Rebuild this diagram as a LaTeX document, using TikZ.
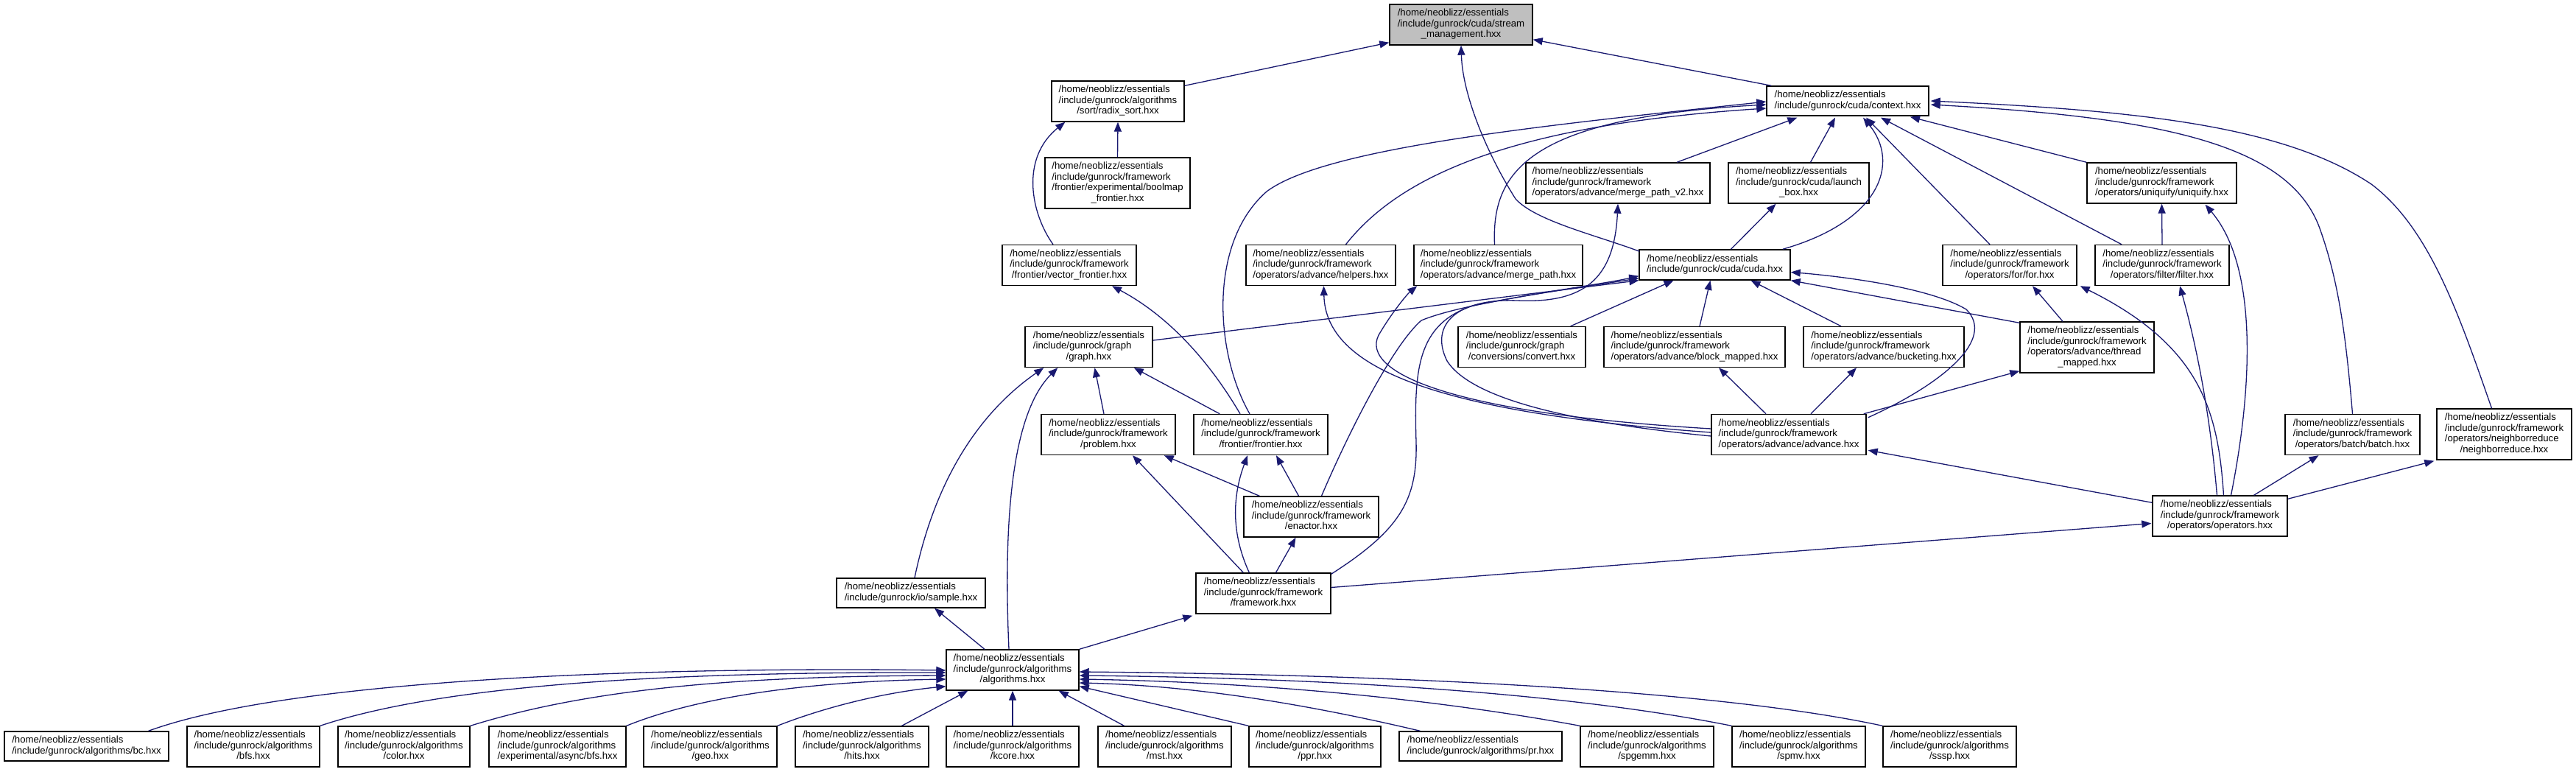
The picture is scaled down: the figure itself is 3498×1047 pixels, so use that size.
\documentclass[tikz,border=0pt]{standalone}
\usepackage{fontspec}
\setmainfont{Liberation Sans}
\usetikzlibrary{arrows.meta,calc}
\definecolor{edgec}{HTML}{191970}
\definecolor{sgray}{HTML}{BFBFBF}
\newcommand{\lastln}[1]{\multicolumn{1}{@{}c@{}}{#1}}
\newcommand{\tb}[1]{\begin{tabular}{@{}l@{}}#1\end{tabular}}
\newcommand{\fsz}{\fontsize{13.2pt}{14.5pt}\selectfont}
\newcommand{\hne}{/home/neoblizz/essentials}
\newcommand{\igf}{/include/gunrock/framework}
\newcommand{\iga}{/include/gunrock/algorithms}
\tikzset{
  box/.style={draw=black, line width=1.4pt, fill=white, inner sep=0pt, font=\fsz},
  bx/.style 2 args={box, minimum width=#1pt, minimum height=#2pt},
  conn/.style={draw=edgec, line width=1.3pt, -{Triangle[length=13pt,width=10pt]}},
}
\begin{document}
\begin{tikzpicture}[x=1pt,y=-1pt]
\useasboundingbox (0,0) rectangle (3498,1047);
\fill[white] (0,0) rectangle (3498,1047);

% ---------- nodes ----------
\node[bx={194}{55},fill=sgray] (stream) at (1984,33.5) {\tb{\hne\\/include/gunrock/cuda/stream\\\lastln{\_management.hxx}}};
\node[bx={180}{55}] (radix) at (1518,137.5) {\tb{\hne\\\iga\\\lastln{/sort/radix\_sort.hxx}}};
\node[bx={220}{40}] (context) at (2509,137) {\tb{\hne\\/include/gunrock/cuda/context.hxx}};
\node[bx={197}{69}] (boolmap) at (1517.5,248.5) {\tb{\hne\\\igf\\/frontier/experimental/boolmap\\\lastln{\_frontier.hxx}}};
\node[bx={250}{55}] (mergev2) at (2197,248.5) {\tb{\hne\\\igf\\\lastln{/operators/advance/merge\_path\_v2.hxx}}};
\node[bx={191}{55}] (launch) at (2442.5,248.5) {\tb{\hne\\/include/gunrock/cuda/launch\\\lastln{\_box.hxx}}};
\node[bx={203}{55}] (uniquify) at (2935.5,248.5) {\tb{\hne\\\igf\\\lastln{/operators/uniquify/uniquify.hxx}}};
\node[bx={182}{55}] (vector) at (1452,360) {\tb{\hne\\\igf\\\lastln{/frontier/vector\_frontier.hxx}}};
\node[bx={203}{55}] (helpers) at (1793.5,360) {\tb{\hne\\\igf\\\lastln{/operators/advance/helpers.hxx}}};
\node[bx={229}{55}] (mergepath) at (2034.5,360) {\tb{\hne\\\igf\\\lastln{/operators/advance/merge\_path.hxx}}};
\node[bx={205}{41}] (cuda) at (2328.5,359.5) {\tb{\hne\\/include/gunrock/cuda/cuda.hxx}};
\node[bx={182}{55}] (forop) at (2729,360) {\tb{\hne\\\igf\\\lastln{/operators/for/for.hxx}}};
\node[bx={182}{55}] (filter) at (2936,360) {\tb{\hne\\\igf\\\lastln{/operators/filter/filter.hxx}}};
\node[bx={173}{55}] (graph) at (1478.5,471) {\tb{\hne\\/include/gunrock/graph\\\lastln{/graph.hxx}}};
\node[bx={173}{55}] (convert) at (2066.5,471) {\tb{\hne\\/include/gunrock/graph\\\lastln{/conversions/convert.hxx}}};
\node[bx={246}{55}] (block) at (2301,471) {\tb{\hne\\\igf\\\lastln{/operators/advance/block\_mapped.hxx}}};
\node[bx={218}{55}] (bucketing) at (2558,471) {\tb{\hne\\\igf\\\lastln{/operators/advance/bucketing.hxx}}};
\node[bx={182}{69}] (thread) at (2834,471.5) {\tb{\hne\\\igf\\/operators/advance/thread\\\lastln{\_mapped.hxx}}};
\node[bx={182}{55}] (problem) at (1505,590) {\tb{\hne\\\igf\\\lastln{/problem.hxx}}};
\node[bx={182}{55}] (frontier) at (1712,590) {\tb{\hne\\\igf\\\lastln{/frontier/frontier.hxx}}};
\node[bx={210}{55}] (advance) at (2429,590) {\tb{\hne\\\igf\\\lastln{/operators/advance/advance.hxx}}};
\node[bx={183}{55}] (batch) at (3194.5,590) {\tb{\hne\\\igf\\\lastln{/operators/batch/batch.hxx}}};
\node[bx={183}{69}] (nreduce) at (3400.5,589.5) {\tb{\hne\\\igf\\/operators/neighborreduce\\\lastln{/neighborreduce.hxx}}};
\node[bx={183}{55}] (enactor) at (1780.5,701.5) {\tb{\hne\\\igf\\\lastln{/enactor.hxx}}};
\node[bx={183}{55}] (operators) at (3014.5,700.5) {\tb{\hne\\\igf\\\lastln{/operators/operators.hxx}}};
\node[bx={202}{40}] (sample) at (1237,805) {\tb{\hne\\/include/gunrock/io/sample.hxx}};
\node[bx={183}{55}] (framework) at (1715.5,805.5) {\tb{\hne\\\igf\\\lastln{/framework.hxx}}};
\node[bx={180}{55}] (algorithms) at (1375,909.5) {\tb{\hne\\\iga\\\lastln{/algorithms.hxx}}};
% bottom row
\node[bx={223}{40}] (bc) at (117.5,1013) {\tb{\hne\\/include/gunrock/algorithms/bc.hxx}};
\node[bx={180}{55}] (bfs) at (344,1013.5) {\tb{\hne\\\iga\\\lastln{/bfs.hxx}}};
\node[bx={179}{55}] (color) at (548.5,1013.5) {\tb{\hne\\\iga\\\lastln{/color.hxx}}};
\node[bx={186}{55}] (async) at (757,1013.5) {\tb{\hne\\\iga\\\lastln{/experimental/async/bfs.hxx}}};
\node[bx={181}{55}] (geo) at (964.5,1013.5) {\tb{\hne\\\iga\\\lastln{/geo.hxx}}};
\node[bx={181}{55}] (hits) at (1170.5,1013.5) {\tb{\hne\\\iga\\\lastln{/hits.hxx}}};
\node[bx={180}{55}] (kcore) at (1375,1013.5) {\tb{\hne\\\iga\\\lastln{/kcore.hxx}}};
\node[bx={181}{55}] (mst) at (1581.5,1013.5) {\tb{\hne\\\iga\\\lastln{/mst.hxx}}};
\node[bx={179}{55}] (ppr) at (1785.5,1013.5) {\tb{\hne\\\iga\\\lastln{/ppr.hxx}}};
\node[bx={221}{40}] (pr) at (2010.5,1013) {\tb{\hne\\/include/gunrock/algorithms/pr.hxx}};
\node[bx={181}{55}] (spgemm) at (2236.5,1013.5) {\tb{\hne\\\iga\\\lastln{/spgemm.hxx}}};
\node[bx={181}{55}] (spmv) at (2442.5,1013.5) {\tb{\hne\\\iga\\\lastln{/spmv.hxx}}};
\node[bx={181}{55}] (sssp) at (2647.5,1013.5) {\tb{\hne\\\iga\\\lastln{/sssp.hxx}}};

% ---------- edges (child -> included parent) ----------
\draw[conn] ($(radix.north east)+(0,7)$) -- ($(stream.south west)+(0,-4)$);
\draw[conn] ($(context.north west)+(7,0)$) -- ($(stream.south east)+(0,-8)$);
\draw[conn] ($(cuda.north west)+(1,3)$) .. controls (2170,320) and (2085,300) .. (2058,270) .. controls (2020,210) and (1986,130) .. (stream.south);
\draw[conn] (boolmap.north) -- (radix.south);
\draw[conn] ($(vector.north)+(-22,0)$) .. controls (1400,290) and (1385,215) .. ($(radix.south west)+(19,0)$);

\draw[conn] ($(mergev2.north)+(80,0)$) -- ($(context.south west)+(42,2)$);
\draw[conn] ($(launch.north)+(16,0)$) -- ($(context.south)+(-17,2)$);
\draw[conn] (uniquify.north west) -- ($(context.south)+(85,1)$);
\draw[conn] ($(helpers.north)+(34,0)$) .. controls (1900,240) and (2050,170) .. ($(context.west)+(0,10)$);
\draw[conn] ($(mergepath.north)+(-5,0)$) .. controls (2025,230) and (2080,160) .. ($(context.west)+(0,5)$);
\draw[conn] ($(cuda.north east)+(-11,0)$) .. controls (2555,300) and (2580,220) .. ($(context.south)+(21,2)$);
\draw[conn] ($(forop.north)+(-27,0)$) -- ($(context.south)+(25,2)$);
\draw[conn] ($(filter.north)+(-55,0)$) -- ($(context.south)+(45,2)$);
\draw[conn] ($(frontier.north)+(-15,0)$) .. controls (1650,480) and (1640,330) .. (1720,260) .. controls (1800,200) and (2100,170) .. ($(context.west)+(0,1)$);
\draw[conn] (batch.north) .. controls (3185,450) and (3175,380) .. (3150,310) .. controls (3110,200) and (2950,160) .. ($(context.east)+(2,5)$);
\draw[conn] ($(nreduce.north)+(-17,0)$) .. controls (3340,430) and (3300,310) .. (3220,250) .. controls (3100,170) and (2900,150) .. ($(context.east)+(2,0)$);

\draw[conn] ($(cuda.north)+(22,0)$) -- ($(launch.south)+(-31,0)$);
\draw[conn] (filter.north) -- (uniquify.south);
\draw[conn] ($(operators.north)+(15,0)$) .. controls (3060,520) and (3065,360) .. ($(uniquify.south)+(59,1)$);
\draw[conn] ($(frontier.north)+(-28,0)$) .. controls (1630,470) and (1570,420) .. ($(vector.south)+(58,0)$);

\draw[conn] ($(advance.west)+(0,-3)$) .. controls (1950,560) and (1800,500) .. ($(helpers.south)+(4,0)$);
\draw[conn] ($(advance.west)+(0,-8)$) .. controls (1950,560) and (1840,500) .. (1875,450) .. controls (1890,425) and (1910,400) .. ($(mergepath.south west)+(5,0)$);
\draw[conn] ($(advance.west)+(0,2)$) .. controls (2150,575) and (2000,545) .. (1965,490) .. controls (1940,440) and (1980,405) .. (2060,408) .. controls (2150,412) and (2192,380) .. (mergev2.south);

\draw[conn] ($(graph.east)+(0,-9)$) -- (cuda.south west);
\draw[conn] ($(convert.north east)+(-21,0)$) -- ($(cuda.south)+(-56,0)$);
\draw[conn] ($(block.north)+(7,0)$) -- ($(cuda.south)+(-6,0)$);
\draw[conn] ($(bucketing.north)+(-58,0)$) -- ($(cuda.south)+(49,0)$);
\draw[conn] ($(thread.north west)+(0,2)$) -- (cuda.south east);
\draw[conn] ($(advance.north east)+(2,5)$) .. controls (2640,520) and (2710,460) .. (2670,420) .. controls (2620,390) and (2500,375) .. ($(cuda.east)+(0,10)$);
\draw[conn] ($(enactor.north)+(14,0)$) .. controls (1830,590) and (1890,470) .. (1930,435) .. controls (1990,410) and (2150,390) .. ($(cuda.south west)+(0,-3)$);
\draw[conn] ($(framework.north east)+(0,2)$) .. controls (1900,720) and (1925,680) .. (1923,600) .. controls (1920,500) and (1925,440) .. (2000,415) .. controls (2100,395) and (2180,385) .. ($(cuda.south west)+(0,-6)$);

\draw[conn] ($(thread.north)+(-33,0)$) -- ($(forop.south)+(31,0)$);
\draw[conn] ($(operators.north)+(5,0)$) .. controls (3012,560) and (2990,470) .. ($(forop.south east)+(4,0)$);
\draw[conn] ($(operators.north)+(-4,0)$) .. controls (3000,550) and (2980,460) .. ($(filter.south)+(24,0)$);

\draw[conn] ($(problem.north)+(-6,0)$) -- ($(graph.south)+(8,0)$);
\draw[conn] ($(frontier.north west)+(36,0)$) -- ($(graph.south east)+(-26,0)$);
\draw[conn] ($(sample.north)+(5,0)$) .. controls (1270,650) and (1330,560) .. ($(graph.south west)+(26,0)$);
\draw[conn] ($(algorithms.north)+(-5,0)$) .. controls (1362,700) and (1375,560) .. ($(graph.south west)+(45,0)$);

\draw[conn] ($(advance.north)+(-31,0)$) -- ($(block.south)+(33,0)$);
\draw[conn] ($(advance.north)+(30,0)$) -- ($(bucketing.south)+(-37,0)$);
\draw[conn] ($(advance.north east)+(-4,0)$) -- ($(thread.south west)+(0,-3)$);

\draw[conn] ($(enactor.north west)+(22,0)$) -- ($(problem.south east)+(-16,0)$);
\draw[conn] ($(enactor.north)+(-17,0)$) -- ($(frontier.south)+(21,0)$);
\draw[conn] ($(framework.north west)+(65,0)$) -- ($(problem.south)+(33,0)$);
\draw[conn] ($(framework.north west)+(73,0)$) .. controls (1670,720) and (1675,670) .. ($(frontier.south)+(-18,0)$);
\draw[conn] ($(framework.north)+(17,0)$) -- ($(enactor.south)+(-21,0)$);

\draw[conn] ($(operators.north west)+(0,10)$) -- ($(advance.south east)+(2,-7)$);
\draw[conn] ($(operators.north)+(46,0)$) -- ($(batch.south)+(-46,0)$);
\draw[conn] ($(operators.north east)+(0,5)$) -- ($(nreduce.south west)+(-3,1)$);
\draw[conn] ($(framework.east)+(0,-8)$) -- ($(operators.west)+(-1,10)$);

\draw[conn] ($(algorithms.north)+(-38,0)$) -- ($(sample.south)+(32,0)$);
\draw[conn] (algorithms.north east) -- ($(framework.south west)+(-4,2)$);

% bottom row -> algorithms
\draw[conn] ($(bc.north)+(84,0)$) .. controls (400,920) and (900,905) .. ($(algorithms.west)+(0,0.5)$);
\draw[conn] (bfs.north east) .. controls (600,930) and (900,912) .. ($(algorithms.west)+(0,3.5)$);
\draw[conn] (color.north east) .. controls (800,935) and (1000,918) .. ($(algorithms.west)+(0,7.5)$);
\draw[conn] (async.north east) .. controls (950,945) and (1100,925) .. ($(algorithms.west)+(0,12.5)$);
\draw[conn] (geo.north east) .. controls (1120,960) and (1200,940) .. ($(algorithms.south west)+(0,-6)$);
\draw[conn] ($(hits.north)+(54,0)$) -- ($(algorithms.south west)+(30,0)$);
\draw[conn] (kcore.north) -- (algorithms.south);
\draw[conn] ($(mst.north)+(-55,0)$) -- ($(algorithms.south east)+(-28,0)$);
\draw[conn] (ppr.north west) -- ($(algorithms.south east)+(0,-6)$);
\draw[conn] ($(pr.north)+(-82,0)$) .. controls (1750,950) and (1600,930) .. ($(algorithms.east)+(0,17.5)$);
\draw[conn] (spgemm.north west) .. controls (1900,940) and (1650,925) .. ($(algorithms.east)+(0,12.5)$);
\draw[conn] (spmv.north west) .. controls (2100,935) and (1750,920) .. ($(algorithms.east)+(0,7.5)$);
\draw[conn] (sssp.north west) .. controls (2300,930) and (1800,915) .. ($(algorithms.east)+(0,2.5)$);
\end{tikzpicture}
\end{document}
